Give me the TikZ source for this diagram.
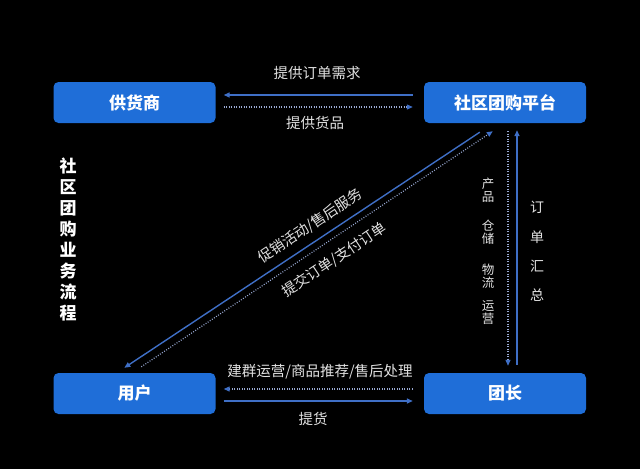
\documentclass[tikz,border=0pt]{standalone}
\usepackage{fontspec}
\newfontfamily\cjk{Noto Sans CJK SC}
\usetikzlibrary{arrows.meta,calc}
\definecolor{boxblue}{HTML}{1F6ED8}
\definecolor{arrowblue}{HTML}{3F6FC6}
\definecolor{dotcol}{HTML}{9AAAD4}
\definecolor{labelgrey}{HTML}{E2E2E2}
\begin{document}
\begin{tikzpicture}[x=1pt,y=-1pt,
  box/.style={fill=boxblue,rounded corners=5pt,minimum width=162pt,minimum height=41pt,inner sep=0pt,text=white,font=\cjk\bfseries\fontsize{17}{17}\selectfont},
  lbl/.style={text=labelgrey,inner sep=0pt,font=\cjk\fontsize{14.5}{14.5}\selectfont},
  solidarrow/.style={draw=arrowblue,line width=1.4pt,-{Triangle[length=6pt,width=5pt]}},
  dotarrow/.style={draw=dotcol,line width=1.2pt,dash pattern=on 0.9pt off 1.6pt,-{Triangle[length=6pt,width=5pt,color=arrowblue]}}]
\fill[black] (0,0) rectangle (640,469);
\useasboundingbox (0,0) rectangle (640,469);

\node[box] (sup) at (134.5,102.5) {供货商};
\node[box] (plat) at (505,102.5) {社区团购平台};
\node[box] (user) at (134.5,393.5) {用户};
\node[box] (lead) at (505,393.5) {团长};

% top
\draw[solidarrow] ([xshift=-11pt,yshift=7.5pt]plat.west) -- ([xshift=8pt,yshift=7.5pt]sup.east);
\draw[dotarrow] ([xshift=8pt,yshift=-4.5pt]sup.east) -- ([xshift=-11pt,yshift=-4.5pt]plat.west);
\node[lbl] (l1) at (317,73) {提供订单需求};
\node[lbl] (l2) at (315,123) {提供货品};

% bottom
\draw[dotarrow] ([xshift=-11pt,yshift=4.5pt]lead.west) -- ([xshift=8pt,yshift=4.5pt]user.east);
\draw[solidarrow] ([xshift=8pt,yshift=-7.5pt]user.east) -- ([xshift=-11pt,yshift=-7.5pt]lead.west);
\node[lbl] (l3) at (320,372) {建群运营/商品推荐/售后处理};
\node[lbl] (l4) at (313,419) {提货};

% vertical
\draw[dotarrow] ([xshift=3pt,yshift=-8pt]plat.south) -- ([xshift=3pt,yshift=7pt]lead.north);
\draw[solidarrow] ([xshift=12pt,yshift=8pt]lead.north) -- ([xshift=12pt,yshift=-7pt]plat.south);

% diagonal
\draw[solidarrow] ([xshift=56pt,yshift=-9pt]plat.south west) -- ([xshift=71pt,yshift=5pt]user.north west);
\draw[dotarrow] ([xshift=88pt,yshift=6pt]user.north west) -- ([xshift=69pt,yshift=-8pt]plat.south west);
\node[lbl,rotate=33.7] (l5) at (310,226) {促销活动/售后服务};
\node[lbl,rotate=33.7] (l6) at (334,260) {提交订单/支付订单};

% vertical texts
\node[text=white,inner sep=0pt,align=center,font=\cjk\bfseries\fontsize{17}{21}\selectfont] (title) at (68,239) {社\\区\\团\\购\\业\\务\\流\\程};
\node[lbl,align=center,font=\cjk\fontsize{14}{29.3}\selectfont] (l7) at (537,251.5) {订\\单\\汇\\总};
\node[lbl,align=center,font=\cjk\fontsize{12.5}{13}\selectfont] (p1) at (488,190) {产\\品};
\node[lbl,align=center,font=\cjk\fontsize{12.5}{13}\selectfont] (p2) at (488,232.5) {仓\\储};
\node[lbl,align=center,font=\cjk\fontsize{12.5}{13}\selectfont] (p3) at (488,276) {物\\流};
\node[lbl,align=center,font=\cjk\fontsize{12.5}{13}\selectfont] (p4) at (488,312.5) {运\\营};
\end{tikzpicture}
\end{document}
